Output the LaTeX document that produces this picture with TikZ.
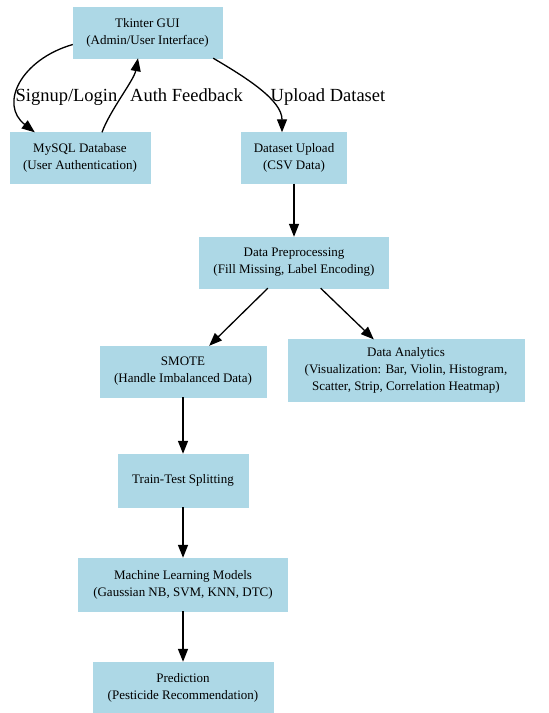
\documentclass[tikz,border=0pt]{standalone}
\usepackage{fontspec}
\setmainfont{Liberation Serif}
\usepackage{xcolor}
\usepackage{tikz}
\usetikzlibrary{arrows.meta,positioning,calc}

\definecolor{lightblue}{HTML}{ADD8E6}

\begin{document}
\begin{tikzpicture}[
      x=1pt, y=1pt,
      font=\fontsize{13}{17}\selectfont,
      box/.style={fill=lightblue, draw=lightblue, align=center, minimum height=51pt,
                  inner xsep=12pt, inner ysep=8pt},
      lbl/.style={font=\fontsize{18.5}{22}\selectfont, anchor=base, inner sep=0pt},
      arr/.style={-{Triangle[length=13pt, width=10pt]}, line width=1.3pt}
    ]
    \useasboundingbox (0,0) rectangle (549,-713);
    \node[box, minimum width=149pt] (gui)   at (147.5,-32.5) {Tkinter GUI\\(Admin/User Interface)};
    \node[box, minimum width=140pt] (db)    at (80,-158)     {MySQL Database\\(User Authentication)};
    \node[box, minimum width=105pt] (upl)   at (294,-158)    {Dataset Upload\\(CSV Data)};
    \node[box, minimum width=189pt] (prep)  at (294,-262.5)  {Data Preprocessing\\(Fill Missing, Label Encoding)};
    \node[box, minimum width=166pt] (smote) at (183,-371.5)  {SMOTE\\(Handle Imbalanced Data)};
    \node[box, minimum width=236pt] (ana)   at (406,-370.5)  {Data Analytics\\(Visualization: Bar, Violin, Histogram,\\Scatter, Strip, Correlation Heatmap)};
    \node[box, minimum width=130pt, minimum height=53pt] (split) at (183,-480.5) {Train-Test Splitting};
    \node[box, minimum width=209pt, minimum height=53pt] (ml)    at (183,-584.5) {Machine Learning Models\\(Gaussian NB, SVM, KNN, DTC)};
    \node[box, minimum width=180pt] (pred)  at (183,-687.5)  {Prediction\\(Pesticide Recommendation)};

    % edges between gui, database and upload
    \draw[arr] ([yshift=-12pt]gui.west) .. controls +(-52,-15) and +(-36,28) .. ([xshift=25pt]db.north west);
    \draw[arr] ([xshift=22pt]db.north) .. controls +(8,22) and +(-4,-22) .. ([xshift=-9.5pt]gui.south);
    \draw[arr] ([xshift=-9pt]gui.south east) .. controls +(34,-20) and +(0,32) .. ([xshift=-12pt]upl.north);
    \node[lbl] (lsign) at (66.5,-101.5)  {Signup/Login};
    \node[lbl] (lauth) at (186.5,-101.5) {Auth Feedback};
    \node[lbl] (lupl)  at (328,-101.5)   {Upload Dataset};

    % pipeline
    \draw[arr] (upl)   -- (prep);
    \draw[arr] (prep)  -- (smote);
    \draw[arr] (prep)  -- (ana);
    \draw[arr] (smote) -- (split);
    \draw[arr] (split) -- (ml);
    \draw[arr] (ml)    -- (pred);
  \end{tikzpicture}
\end{document}
